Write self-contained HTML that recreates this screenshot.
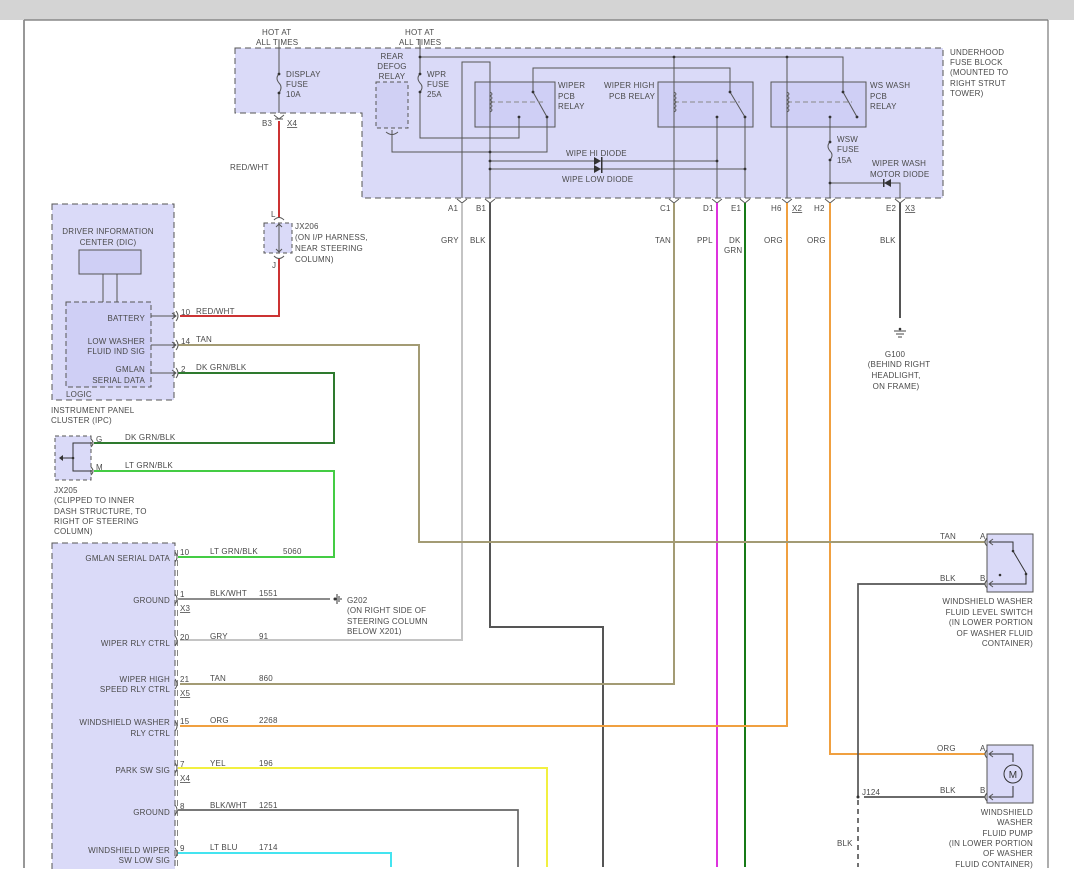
<!DOCTYPE html>
<html><head><meta charset="utf-8"><style>
html,body{margin:0;padding:0;background:#fff}
svg{display:block}
text{font-family:"Liberation Sans",sans-serif;font-size:8px;fill:#4a4a4a;letter-spacing:0.2px}
.r{text-anchor:end}.m{text-anchor:middle}
</style></head><body>
<svg width="1074" height="886" viewBox="0 0 1074 886" xmlns="http://www.w3.org/2000/svg">
<rect x="0" y="0" width="1074" height="20" fill="#d4d4d4"/>
<line x1="24" y1="20" x2="24" y2="868" stroke="#777" stroke-width="1.5"/>
<line x1="24" y1="20" x2="1048" y2="20" stroke="#888" stroke-width="1.5"/>
<line x1="1048" y1="20" x2="1048" y2="868" stroke="#777" stroke-width="1.2"/>

<!-- Underhood block -->
<polygon points="235,48 943,48 943,198 362,198 362,113 235,113" fill="#dadaf8" stroke="#555" stroke-dasharray="6,4"/>
<g fill="none" stroke="#555" stroke-width="1">
<rect x="376" y="82" width="32" height="46" stroke-dasharray="4,3" fill="#d0d0f4"/>
<rect x="475" y="82" width="80" height="45" fill="#cfcff5"/>
<rect x="658" y="82" width="95" height="45" fill="#cfcff5"/>
<rect x="771" y="82" width="95" height="45" fill="#cfcff5"/>
<path d="M279,40 V74 M279,93 V113"/>
<path d="M279,74 q-4,4 0,9 q4,4 0,10"/>
<path d="M420,40 V74 M420,92 V138 H519 V117"/>
<path d="M420,74 q-4,4 0,9 q4,4 0,9"/>
<path d="M420,57 H843 V92"/>
<path d="M674,57 V198 M787,57 V198"/>
<path d="M462,198 V62 H490 V198"/>
<path d="M392,130 V152 H547 V117"/>
<path d="M533,92 L547,117 M533,92 V68 H730 V92 L745,117 V198 M717,117 V198"/>
<path d="M843,92 L857,117"/>
<path d="M490,161 H717 M490,169 H745"/>
<path d="M830,117 V142 M830,160 V198 M830,183 H900 V198"/>
<path d="M830,142 q-4,4 0,9 q4,4 0,9"/>
<path d="M490,102 H545 M674,102 H740 M787,102 H852" stroke-dasharray="5,3" stroke="#888"/>
<path d="M490,92 q4,2 0,4 q4,2 0,4 q4,2 0,4 q4,2 0,4 q4,2 0,4 M674,92 q4,2 0,4 q4,2 0,4 q4,2 0,4 q4,2 0,4 q4,2 0,4 M787,92 q4,2 0,4 q4,2 0,4 q4,2 0,4 q4,2 0,4 q4,2 0,4" stroke-width="0.9"/>
</g>
<g fill="#333">
<circle cx="279" cy="74" r="1.4"/><circle cx="279" cy="93" r="1.4"/><circle cx="420" cy="74" r="1.4"/><circle cx="420" cy="92" r="1.4"/><circle cx="420" cy="57" r="1.4"/>
<circle cx="674" cy="57" r="1.4"/><circle cx="787" cy="57" r="1.4"/>
<circle cx="533" cy="92" r="1.4"/><circle cx="547" cy="117" r="1.4"/><circle cx="519" cy="117" r="1.4"/>
<circle cx="730" cy="92" r="1.4"/><circle cx="745" cy="117" r="1.4"/><circle cx="717" cy="117" r="1.4"/>
<circle cx="843" cy="92" r="1.4"/><circle cx="857" cy="117" r="1.4"/><circle cx="830" cy="117" r="1.4"/>
<circle cx="490" cy="152" r="1.4"/><circle cx="490" cy="161" r="1.4"/><circle cx="490" cy="169" r="1.4"/>
<circle cx="717" cy="161" r="1.4"/><circle cx="745" cy="169" r="1.4"/><circle cx="830" cy="183" r="1.4"/>
<circle cx="830" cy="142" r="1.4"/><circle cx="830" cy="160" r="1.4"/>
<polygon points="594,157 601,161 594,165"/><rect x="601" y="157" width="1.5" height="8"/>
<polygon points="594,165 601,169 594,173"/><rect x="601" y="165" width="1.5" height="8"/>
<polygon points="891,179 884,183 891,187"/><rect x="883" y="179" width="1.5" height="8"/>
</g>
<text x="262" y="35">HOT AT</text><text x="256" y="45">ALL TIMES</text>
<text x="405" y="35">HOT AT</text><text x="399" y="45">ALL TIMES</text>
<text x="286" y="77">DISPLAY</text><text x="286" y="87">FUSE</text><text x="286" y="97">10A</text>
<text x="392" y="59" class="m">REAR</text><text x="392" y="69" class="m">DEFOG</text><text x="392" y="79" class="m">RELAY</text>
<text x="427" y="77">WPR</text><text x="427" y="87">FUSE</text><text x="427" y="97">25A</text>
<text x="558" y="88">WIPER</text><text x="558" y="99">PCB</text><text x="558" y="109">RELAY</text>
<text x="604" y="88">WIPER HIGH</text><text x="609" y="99">PCB RELAY</text>
<text x="870" y="88">WS WASH</text><text x="870" y="99">PCB</text><text x="870" y="109">RELAY</text>
<text x="566" y="156">WIPE HI DIODE</text><text x="562" y="182">WIPE LOW DIODE</text>
<text x="837" y="142">WSW</text><text x="837" y="152">FUSE</text><text x="837" y="163">15A</text>
<text x="872" y="166">WIPER WASH</text><text x="870" y="177">MOTOR DIODE</text>
<text x="950" y="55">UNDERHOOD</text><text x="950" y="65">FUSE BLOCK</text><text x="950" y="75">(MOUNTED TO</text><text x="950" y="86">RIGHT STRUT</text><text x="950" y="96">TOWER)</text>

<g>
<text x="262" y="126">B3</text><text x="287" y="126" text-decoration="underline">X4</text>
<text x="448" y="211">A1</text><text x="476" y="211">B1</text><text x="660" y="211">C1</text><text x="703" y="211">D1</text><text x="731" y="211">E1</text><text x="771" y="211">H6</text><text x="792" y="211" text-decoration="underline">X2</text><text x="814" y="211">H2</text><text x="886" y="211">E2</text><text x="905" y="211" text-decoration="underline">X3</text>
</g>
<g fill="none" stroke="#555" stroke-width="0.9">
<path d="M274,115 l5,4 l5,-4 M275,119 h8"/>
<path d="M457,199 l5,4 l5,-4 M485,199 l5,4 l5,-4 M669,199 l5,4 l5,-4 M712,199 l5,4 l5,-4 M740,199 l5,4 l5,-4 M782,199 l5,4 l5,-4 M825,199 l5,4 l5,-4 M895,199 l5,4 l5,-4"/>
<path d="M386,132 q6,5 12,0"/>
</g>

<g fill="none" stroke-width="2">
<path d="M279,121 V218 M279,258 V316 H180" stroke="#cc3333"/>
<path d="M462,203 V640 H180" stroke="#c4c4c4"/>
<path d="M490,203 V627 H603 V867" stroke="#555"/>
<path d="M674,203 V684 H180" stroke="#a39b74"/>
<path d="M717,203 V867" stroke="#dd33dd"/>
<path d="M745,203 V867" stroke="#177a17"/>
<path d="M787,203 V726 H180" stroke="#f0a040"/>
<path d="M830,203 V754 H985" stroke="#f0a040"/>
<path d="M900,203 V318" stroke="#555"/>
<path d="M178,345 H419 V542 H985" stroke="#a39b74"/>
<path d="M178,373 H334 V443 H94" stroke="#2e7a2e"/>
<path d="M94,471 H334 V557 H178" stroke="#44cc44"/>
<path d="M178,599 H330" stroke="#666" stroke-width="1.5"/>
<path d="M178,768 H547 V867" stroke="#f2f040"/>
<path d="M178,810 H518 V867" stroke="#666" stroke-width="1.7"/>
<path d="M178,853 H391 V867" stroke="#44e4f0"/>
<path d="M985,584 H858 V796" stroke="#555" stroke-width="1.7"/>
<path d="M864,797 H985" stroke="#555" stroke-width="1.7"/>
<path d="M858,800 V867" stroke="#444" stroke-width="1.5" stroke-dasharray="5,4"/>
</g>
<text x="441" y="243">GRY</text><text x="470" y="243">BLK</text><text x="655" y="243">TAN</text><text x="697" y="243">PPL</text><text x="729" y="243">DK</text><text x="724" y="253">GRN</text><text x="764" y="243">ORG</text><text x="807" y="243">ORG</text><text x="880" y="243">BLK</text>
<text x="230" y="170">RED/WHT</text>
<g stroke="#444" fill="none"><path d="M894,331 h12 M896,334 h8 M898,337 h4"/></g><circle cx="900" cy="329" r="1.3" fill="#333"/>
<text x="895" y="357" class="m">G100</text><text x="899" y="367" class="m">(BEHIND RIGHT</text><text x="896" y="378" class="m">HEADLIGHT,</text><text x="896" y="389" class="m">ON FRAME)</text>

<rect x="264" y="223" width="28" height="30" fill="#dadaf8" stroke="#555" stroke-dasharray="4,3"/>
<path d="M279,224 V252 M276,227 l3,-3 l3,3 M276,249 l3,3 l3,-3 M274,220 q5,-5 10,0 M274,256 q5,5 10,0" stroke="#555" fill="none"/>
<text x="271" y="217">L</text><text x="272" y="268">J</text>
<text x="295" y="229">JX206</text><text x="295" y="240">(ON I/P HARNESS,</text><text x="295" y="251">NEAR STEERING</text><text x="295" y="262">COLUMN)</text>

<rect x="52" y="204" width="122" height="196" fill="#dadaf8" stroke="#555" stroke-dasharray="6,4"/>
<text x="108" y="234" class="m">DRIVER INFORMATION</text><text x="108" y="245" class="m">CENTER (DIC)</text>
<rect x="79" y="250" width="62" height="24" fill="#cfcff5" stroke="#555"/>
<path d="M103,274 V302 M117,274 V302" stroke="#555"/>
<rect x="66" y="302" width="85" height="85" fill="#cfcff5" stroke="#555" stroke-dasharray="5,3"/>
<text x="145" y="321" class="r">BATTERY</text><text x="145" y="344" class="r">LOW WASHER</text><text x="145" y="354" class="r">FLUID IND SIG</text><text x="145" y="372" class="r">GMLAN</text><text x="145" y="383" class="r">SERIAL DATA</text>
<text x="66" y="397">LOGIC</text>
<g stroke="#555" fill="none"><path d="M151,316 H176 M172,313 l4,3 l-4,3 M151,345 H176 M172,342 l4,3 l-4,3 M151,373 H176 M172,370 l4,3 l-4,3 M176,311 q4,5 0,10 M176,340 q4,5 0,10 M176,368 q4,5 0,10"/></g>
<text x="181" y="315">10</text><text x="196" y="314">RED/WHT</text>
<text x="181" y="344">14</text><text x="196" y="342">TAN</text>
<text x="181" y="372">2</text><text x="196" y="370">DK GRN/BLK</text>
<text x="51" y="413">INSTRUMENT PANEL</text><text x="51" y="423">CLUSTER (IPC)</text>

<rect x="55" y="436" width="36" height="44" fill="#dadaf8" stroke="#555" stroke-dasharray="4,3"/>
<path d="M92,443 H73 V471 H92 M73,458 H61" stroke="#333" fill="none"/>
<polygon points="59,458 63,455 63,461" fill="#333"/><circle cx="73" cy="458" r="1.3" fill="#333"/>
<path d="M91,439 q4,4 0,8 M91,467 q4,4 0,8" stroke="#555" fill="none"/>
<text x="96" y="442">G</text><text x="96" y="470">M</text>
<text x="125" y="440">DK GRN/BLK</text><text x="125" y="468">LT GRN/BLK</text>
<text x="54" y="493">JX205</text><text x="54" y="503">(CLIPPED TO INNER</text><text x="54" y="514">DASH STRUCTURE, TO</text><text x="54" y="524">RIGHT OF STEERING</text><text x="54" y="534">COLUMN)</text>

<rect x="52" y="543" width="123" height="360" fill="#dadaf8" stroke="#555" stroke-dasharray="6,4"/>
<line x1="177.5" y1="550" x2="177.5" y2="868" stroke="#666" stroke-width="0.8" stroke-dasharray="6,4"/>
<g stroke="#555" fill="none">
<path d="M175,552 q4,5 0,10 M175,594 q4,5 0,10 M175,636 q4,5 0,10 M175,679 q4,5 0,10 M175,721 q4,5 0,10 M175,763 q4,5 0,10 M175,805 q4,5 0,10 M175,848 q4,5 0,10"/>
</g>
<text x="170" y="561" class="r">GMLAN SERIAL DATA</text>
<text x="170" y="603" class="r">GROUND</text>
<text x="170" y="646" class="r">WIPER RLY CTRL</text>
<text x="170" y="682" class="r">WIPER HIGH</text><text x="170" y="692" class="r">SPEED RLY CTRL</text>
<text x="170" y="725" class="r">WINDSHIELD WASHER</text><text x="170" y="736" class="r">RLY CTRL</text>
<text x="170" y="773" class="r">PARK SW SIG</text>
<text x="170" y="815" class="r">GROUND</text>
<text x="170" y="853" class="r">WINDSHIELD WIPER</text><text x="170" y="863" class="r">SW LOW SIG</text>
<text x="180" y="555">10</text><text x="210" y="554">LT GRN/BLK</text><text x="283" y="554">5060</text>
<text x="180" y="597">1</text><text x="210" y="596">BLK/WHT</text><text x="259" y="596">1551</text>
<text x="180" y="611" text-decoration="underline">X3</text>
<text x="180" y="640">20</text><text x="210" y="639">GRY</text><text x="259" y="639">91</text>
<text x="180" y="682">21</text><text x="210" y="681">TAN</text><text x="259" y="681">860</text>
<text x="180" y="696" text-decoration="underline">X5</text>
<text x="180" y="724">15</text><text x="210" y="723">ORG</text><text x="259" y="723">2268</text>
<text x="180" y="767">7</text><text x="210" y="766">YEL</text><text x="259" y="766">196</text>
<text x="180" y="781" text-decoration="underline">X4</text>
<text x="180" y="809">8</text><text x="210" y="808">BLK/WHT</text><text x="259" y="808">1251</text>
<text x="180" y="851">9</text><text x="210" y="850">LT BLU</text><text x="259" y="850">1714</text>
<circle cx="335" cy="599" r="1.5" fill="#333"/>
<path d="M337,594 v10 M339,596 v6 M341,598 v2" stroke="#333"/>
<text x="347" y="603">G202</text><text x="347" y="613">(ON RIGHT SIDE OF</text><text x="347" y="624">STEERING COLUMN</text><text x="347" y="634">BELOW X201)</text>

<rect x="987" y="534" width="46" height="58" fill="#dadaf8" stroke="#555"/>
<path d="M989,542 H1013 V551 L1026,573 V584 H989" stroke="#333" fill="none"/>
<circle cx="1013" cy="551" r="1.3" fill="#333"/><circle cx="1026" cy="574" r="1.3" fill="#333"/><circle cx="1000" cy="575" r="1.3" fill="#333"/>
<path d="M987,538 q-4,4 0,8 M987,580 q-4,4 0,8 M993,539 l-4,3 l4,3 M993,581 l-4,3 l4,3" stroke="#555" fill="none"/>
<text x="940" y="539">TAN</text><text x="980" y="539">A</text>
<text x="940" y="581">BLK</text><text x="980" y="581">B</text>
<text x="1033" y="604" class="r">WINDSHIELD WASHER</text><text x="1033" y="615" class="r">FLUID LEVEL SWITCH</text><text x="1033" y="625" class="r">(IN LOWER PORTION</text><text x="1033" y="636" class="r">OF WASHER FLUID</text><text x="1033" y="646" class="r">CONTAINER)</text>

<rect x="987" y="745" width="46" height="58" fill="#dadaf8" stroke="#555"/>
<path d="M989,754 H1013 V762 M1013,786 V797 H989" stroke="#333" fill="none"/>
<circle cx="1013" cy="774" r="9" fill="#dadaf8" stroke="#333"/>
<text x="1013" y="778" class="m" style="font-size:10px;fill:#333">M</text>
<path d="M987,750 q-4,4 0,8 M987,793 q-4,4 0,8 M993,751 l-4,3 l4,3 M993,794 l-4,3 l4,3" stroke="#555" fill="none"/>
<text x="937" y="751">ORG</text><text x="980" y="751">A</text>
<text x="940" y="793">BLK</text><text x="980" y="793">B</text>
<circle cx="858" cy="797" r="1.5" fill="#333"/><text x="862" y="795">J124</text>
<text x="837" y="846">BLK</text>
<text x="1033" y="815" class="r">WINDSHIELD</text><text x="1033" y="825" class="r">WASHER</text><text x="1033" y="836" class="r">FLUID PUMP</text><text x="1033" y="846" class="r">(IN LOWER PORTION</text><text x="1033" y="856" class="r">OF WASHER</text><text x="1033" y="867" class="r">FLUID CONTAINER)</text>
<rect x="0" y="869" width="1074" height="17" fill="#fff"/>
</svg>
</body></html>
